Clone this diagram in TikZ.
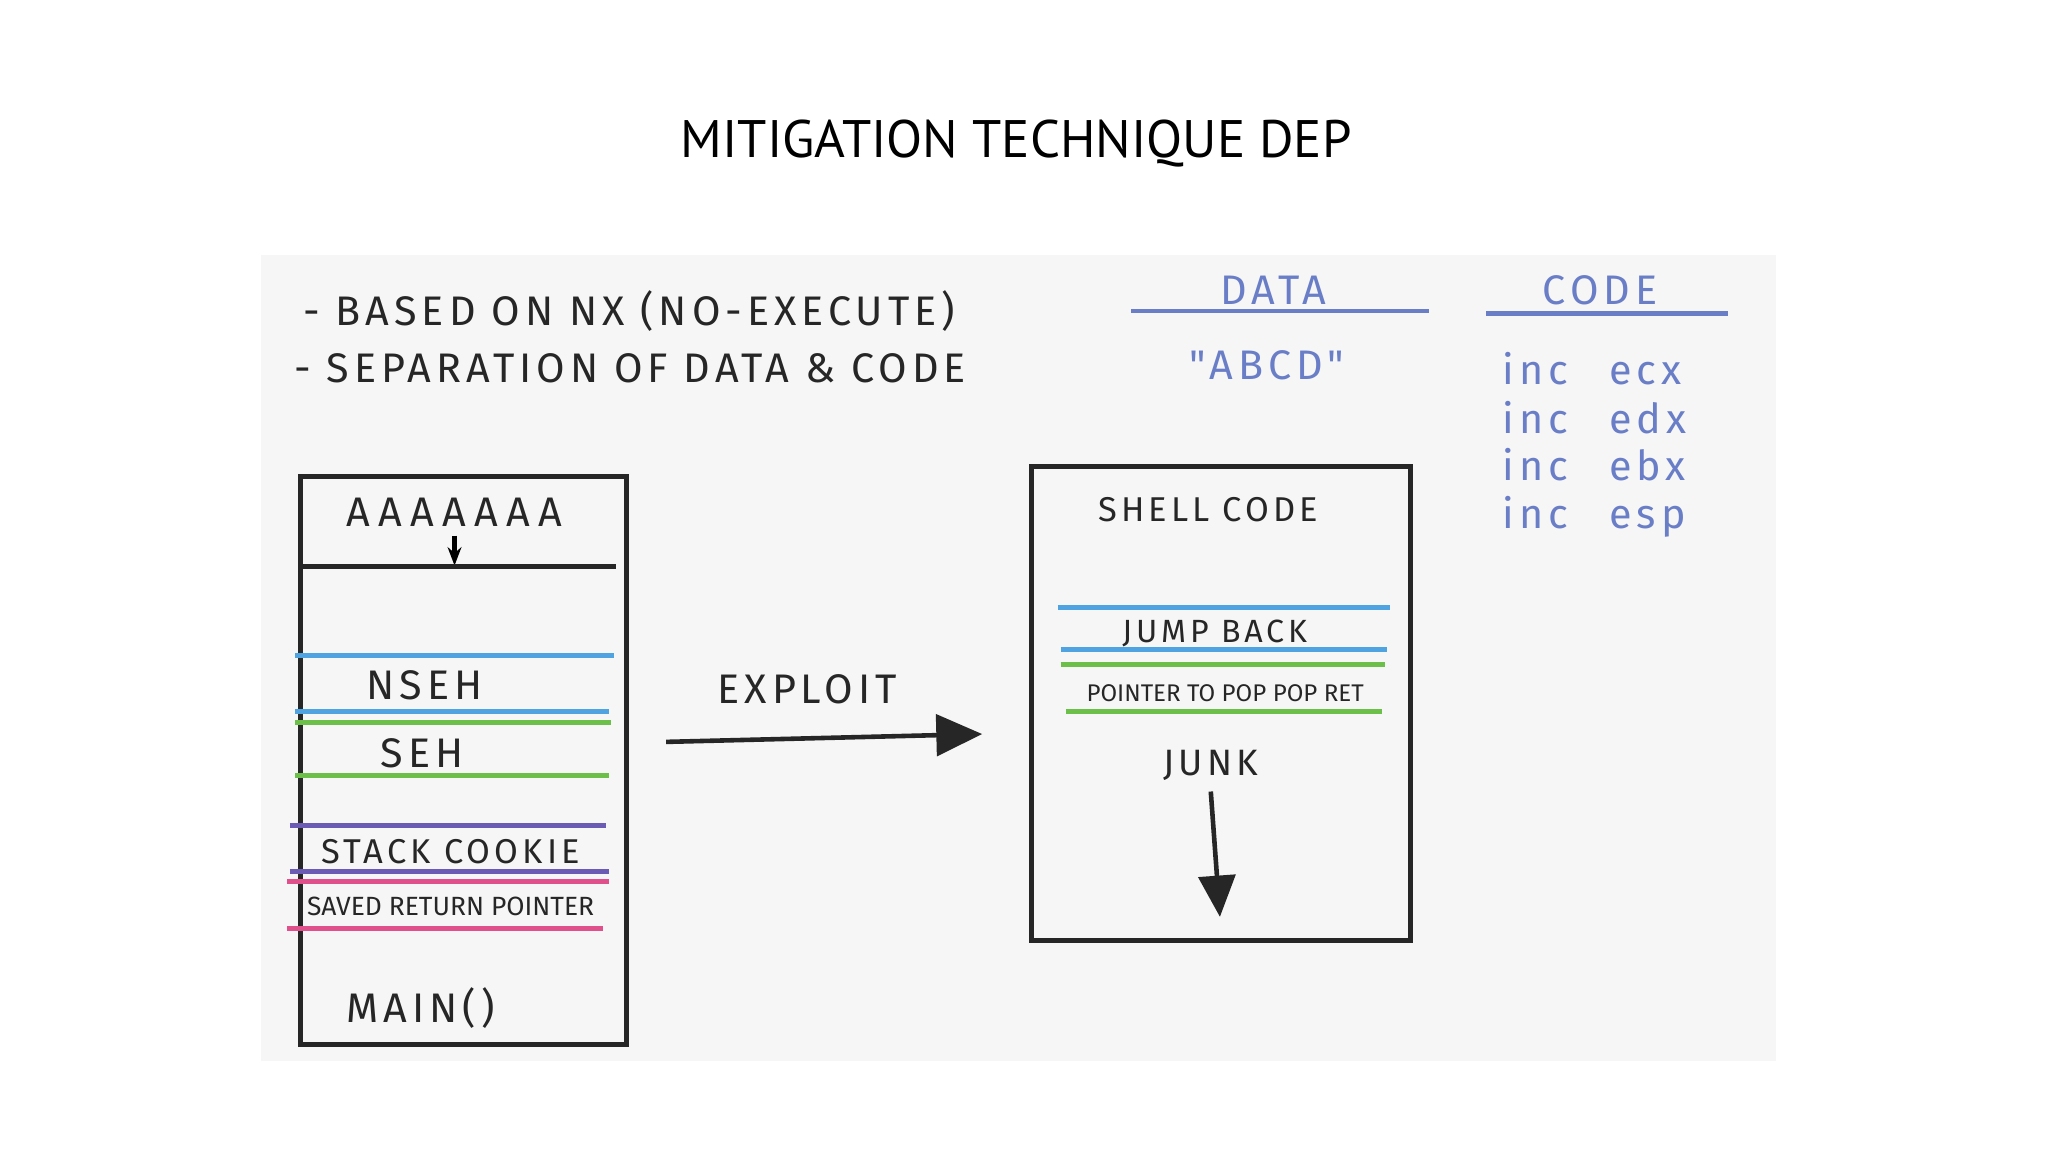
\documentclass[tikz,border=0pt]{standalone}
\usepackage{fontspec}
\setmainfont{PT Sans}
\newfontfamily\hand{Fira Sans}
\newfontfamily\handw[LetterSpace=12]{Fira Sans}
\usetikzlibrary{arrows.meta}
\definecolor{board}{HTML}{F5F6F5}
\definecolor{mblue}{HTML}{4FA3E0}
\definecolor{mgreen}{HTML}{6CC04A}
\definecolor{mpurple}{HTML}{6B5BB5}
\definecolor{mpink}{HTML}{E0508A}
\definecolor{penblue}{HTML}{6A7EC8}
\tikzset{
  hw/.style={font=\handw\fontsize{18}{20}\selectfont, text=black!85, inner sep=0pt},
  hwb/.style={hw, text=penblue},
  colline/.style={line width=2.2pt},
  stackbox/.style={draw=black!85, line width=2.2pt},
}
\begin{document}
\begin{tikzpicture}[x=0.02cm,y=-0.02cm]
\useasboundingbox (0,0) rectangle (1568,882);
\fill[white] (0,0) rectangle (1568,882);
\node (title) at (778,110) {\fontsize{23}{28}\selectfont MITIGATION TECHNIQUE DEP};
\fill[board] (200,195) rectangle (1360,812);
% left text
\node[hw, anchor=west] (l1) at (232,238) {- BASED ON NX (NO-EXECUTE)};
\node[hw, anchor=west] (l2) at (225,282) {- SEPARATION OF DATA \& CODE};
% data/code
\node[hwb] (data) at (975,222) {DATA};
\draw[penblue, line width=1.8pt] (866,238) -- (1094,238);
\node[hwb] (abcd) at (970,280) {"ABCD"};
\node[hwb] (code) at (1225,222) {CODE};
\draw[penblue, line width=1.8pt] (1138,240) -- (1323,240);
\node[hwb, anchor=west] (c1) at (1150,282) {inc\quad ecx};
\node[hwb, anchor=west] (c2) at (1150,320) {inc\quad edx};
\node[hwb, anchor=west] (c3) at (1150,356) {inc\quad ebx};
\node[hwb, anchor=west] (c4) at (1150,396) {inc\quad esp};
% left stack
\draw[stackbox] (230,365) rectangle (480,800);
\node[hw, font=\hand\addfontfeature{LetterSpace=20}\fontsize{18}{20}\selectfont] (aaa) at (348,392) {AAAAAAA};
\coordinate (a1) at (348,410); \coordinate (a2) at (348,433);
\draw[line width=1.8pt, -{Stealth[length=8pt]}] (a1) -- (a2);
\draw[line width=2.2pt, black!85] (232,434) -- (472,434);
\draw[colline, mblue] (226,502) -- (470,502);
\node[hw] (nseh) at (325,525) {NSEH};
\draw[colline, mblue] (226,545) -- (466,545);
\draw[colline, mgreen] (226,553) -- (468,553);
\node[hw] (seh) at (323,577) {SEH};
\draw[colline, mgreen] (226,594) -- (466,594);
\draw[colline, mpurple] (222,632) -- (464,632);
\node[hw, font=\handw\fontsize{15}{17}\selectfont] (cookie) at (345,652) {STACK COOKIE};
\draw[colline, mpurple] (222,667) -- (466,667);
\draw[colline, mpink] (220,675) -- (466,675);
\node[hw, font=\hand\fontsize{11.5}{13}\selectfont] (srp) at (345,694) {SAVED RETURN POINTER};
\draw[colline, mpink] (220,711) -- (462,711);
\node[hw] (main) at (322,772) {MAIN()};
% exploit
\node[hw] (exploit) at (618,528) {EXPLOIT};
\coordinate (e1) at (510,568); \coordinate (e2) at (752,562);
\draw[line width=2pt, black!85, -{Triangle[length=20pt,width=18pt]}] (e1) -- (e2);
% right stack
\draw[stackbox] (790,357) rectangle (1080,720);
\node[hw, font=\handw\fontsize{15}{17}\selectfont] (shell) at (925,390) {SHELL CODE};
\draw[colline, mblue] (810,465) -- (1064,465);
\node[hw, font=\handw\fontsize{14}{16}\selectfont] (jb) at (930,485) {JUMP BACK};
\draw[colline, mblue] (812,497) -- (1062,497);
\draw[colline, mgreen] (812,509) -- (1060,509);
\node[hw, font=\hand\fontsize{10.5}{12}\selectfont] (ppr) at (938,531) {POINTER TO POP POP RET};
\draw[colline, mgreen] (816,545) -- (1058,545);
\node[hw, font=\handw\fontsize{16}{18}\selectfont] (junk) at (927,586) {JUNK};
\coordinate (j1) at (927,606); \coordinate (j2) at (934,702);
\draw[line width=2pt, black!85, -{Triangle[length=18pt,width=16pt]}] (j1) -- (j2);
\end{tikzpicture}
\end{document}
